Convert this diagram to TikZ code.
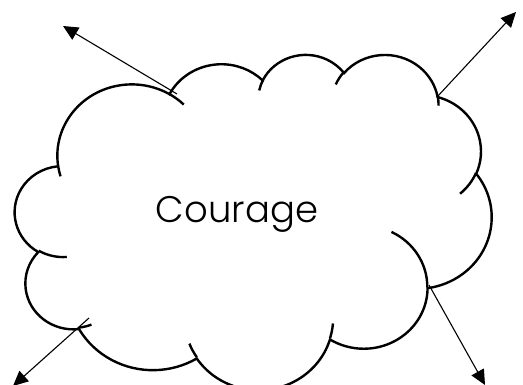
\documentclass[tikz,border=0pt]{standalone}
\usepackage{fontspec}
\setmainfont{Poppins}
\newfontfamily\wordfont{Poppins Light}
\usetikzlibrary{arrows.meta}
\newcommand\defcloudarc[5]{%
  \pgfmathsetmacro\cldA{atan2(#2*sin(#4),#3*cos(#4))}%
  \pgfmathsetmacro\cldB{atan2(#2*sin(#4+#5),#3*cos(#4+#5))}%
  \pgfmathsetmacro\cldD{mod(\cldB-\cldA+720,360)}%
  \edef\cldtmp{\noexpand\tikzset{#1/.style={start angle=\cldA, delta angle=\cldD, x radius=#2, y radius=#3}}}%
  \cldtmp}
\begin{document}
\begin{tikzpicture}[x=1pt,y=-1pt,
  cloudline/.style={line width=2.4pt, draw=black, line cap=butt, line join=miter},
  arrowline/.style={line width=1.1pt, draw=black, -{Triangle[length=15pt,width=14pt]}},
  wordstyle/.style={font=\wordfont\fontsize{37}{44}\selectfont, inner sep=0pt, anchor=base}]
\fill[white] (0,0) rectangle (523,385);
\useasboundingbox (0,0) rectangle (523,385);
% outline arcs
\defcloudarc{ca1}{6.753}{9.190}{-190.48749}{123.78053}
\defcloudarc{ca2}{5.333}{7.267}{-144.10238}{89.94523}
\defcloudarc{ca3}{4.365}{5.945}{-145.80792}{99.72302}
\defcloudarc{ca4}{4.857}{6.595}{-130.98607}{117.24173}
\defcloudarc{ca5}{5.333}{7.273}{-78.70888}{109.02692}
\defcloudarc{ca6}{6.775}{9.220}{-46.26725}{130.26900}
\defcloudarc{ca7}{5.785}{7.867}{0.62502}{114.03333}
\defcloudarc{ca8}{6.752}{9.215}{22.45160}{115.17255}
\defcloudarc{ca9}{7.720}{10.543}{66.24263}{75.71102}
\defcloudarc{ca10}{4.360}{5.918}{-274.94208}{146.73557}
\defcloudarc{ca11}{4.345}{5.945}{-246.82850}{152.51885}
% inner arcs
\defcloudarc{ci1}{4.345}{5.945}{86.74200}{26.42950}
\defcloudarc{ci2}{4.360}{5.918}{73.61047}{11.44747}
\defcloudarc{ci3}{6.752}{9.215}{137.62415}{14.08110}
\defcloudarc{ci4}{6.752}{9.215}{6.45327}{15.99835}
\defcloudarc{ci5}{5.785}{7.867}{-70.29235}{70.91737}
\defcloudarc{ci6}{5.333}{7.273}{30.31803}{27.75150}
\defcloudarc{ci7}{4.857}{6.595}{-13.74433}{14.85890}
\defcloudarc{ci8}{4.857}{6.595}{-149.18145}{18.19537}
\defcloudarc{ci9}{4.365}{5.945}{-163.49427}{17.68635}
\defcloudarc{ci10}{6.753}{9.190}{-66.70695}{12.31935}
\defcloudarc{ci11}{6.753}{9.190}{157.65435}{11.85817}
\begin{scope}[shift={(15,53.8)}, x=11.03pt, y=-7.76pt]
  \draw[cloudline] (3.900,14.370) arc[ca1] arc[ca2] arc[ca3] arc[ca4] arc[ca5]
    arc[ca6] arc[ca7] arc[ca8] arc[ca9] arc[ca10] arc[ca11] -- cycle;
  \draw[cloudline] (4.693,26.177) arc[ci1]
    (6.928,34.899) arc[ci2]
    (16.478,39.090) arc[ci3]
    (28.827,34.751) arc[ci4]
    (34.129,22.954) arc[ci5]
    (41.798,15.354) arc[ci6]
    (38.324,5.426) arc[ci7]
    (29.078,3.952) arc[ci8]
    (22.141,4.720) arc[ci9]
    (14.000,5.192) arc[ci10]
    (4.127,15.789) arc[ci11];
\end{scope}
\node[wordstyle] (word) at (237,223) {Courage};
\coordinate (tlS) at (177,94);
\coordinate (tlT) at (63,26);
\coordinate (trS) at (437,97);
\coordinate (trT) at (516,12);
\coordinate (brS) at (429,285);
\coordinate (brT) at (485,385);
\coordinate (blS) at (89,318);
\coordinate (blT) at (13,386);
\draw[arrowline] (tlS) -- (tlT);
\draw[arrowline] (trS) -- (trT);
\draw[arrowline] (brS) -- (brT);
\draw[arrowline] (blS) -- (blT);
\end{tikzpicture}
\end{document}
